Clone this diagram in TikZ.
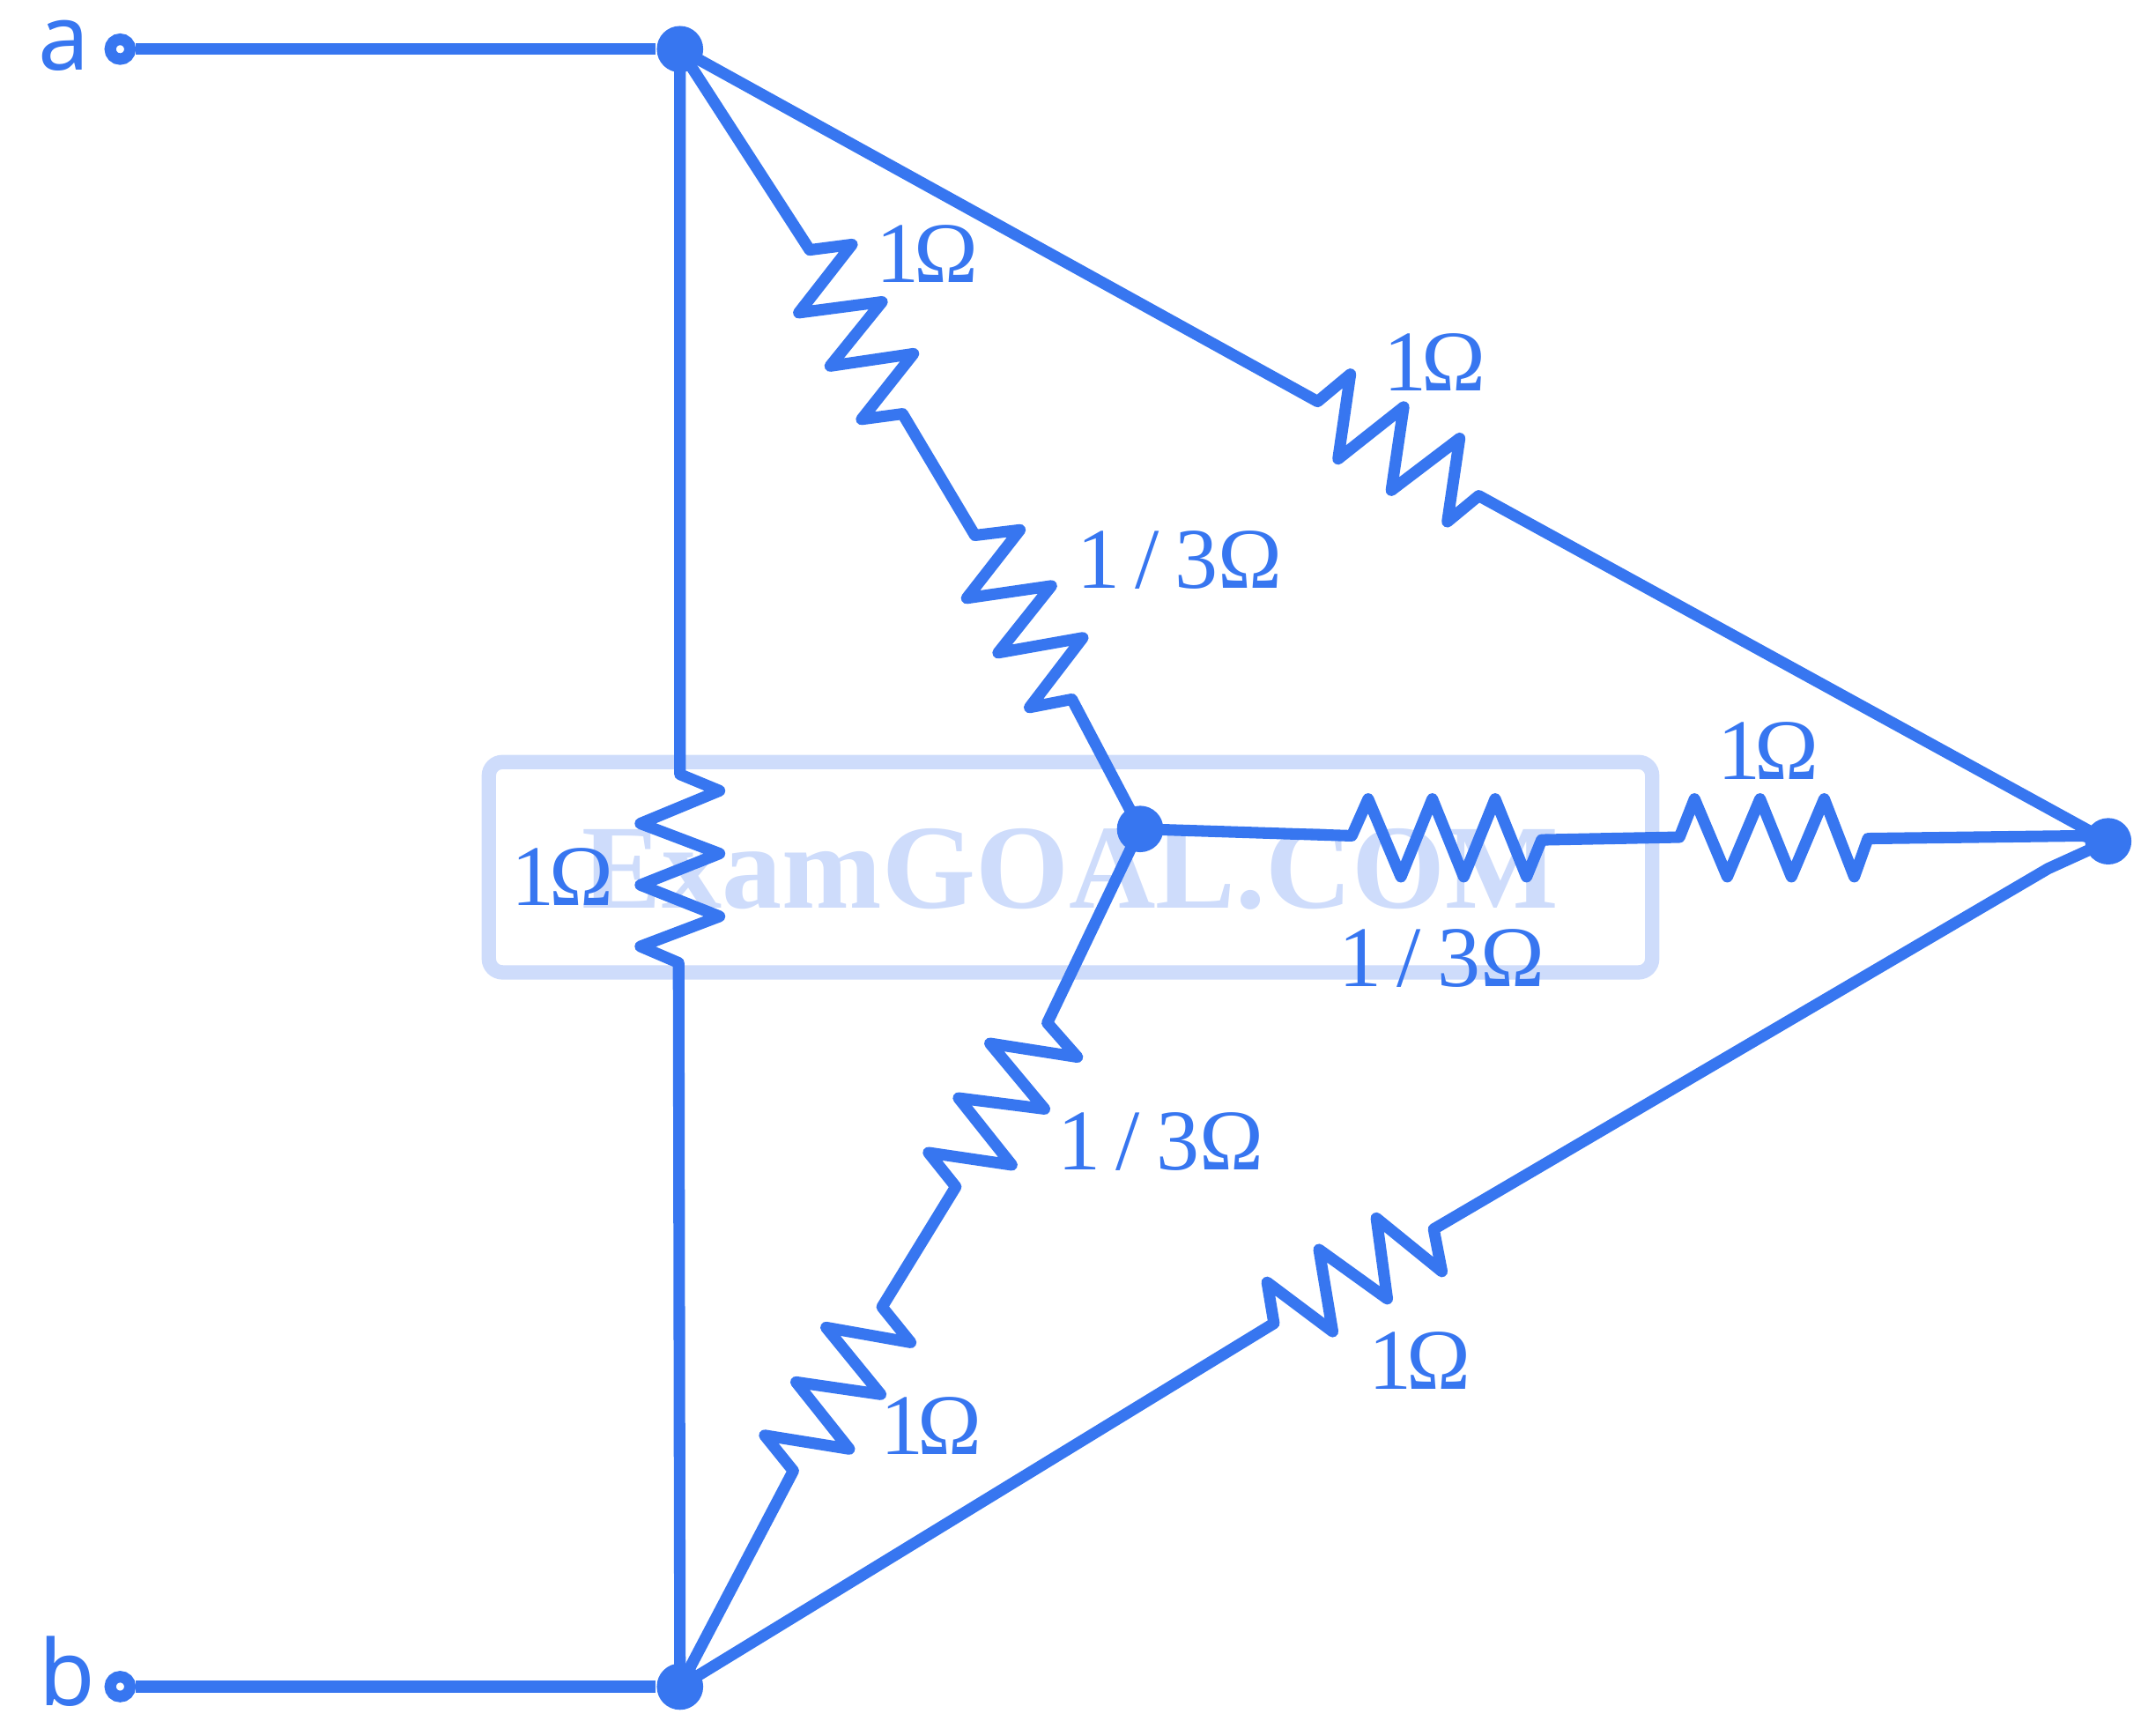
\documentclass[tikz,border=0pt]{standalone}
\usepackage{fontspec}
\setmainfont{Liberation Serif}
\newfontfamily\termfont{Noto Sans}
\definecolor{wireblue}{HTML}{3776F0}
\definecolor{markblue}{HTML}{CEDCFB}
\newcommand{\oneohm}{1\kern-0.4mm Ω}
\newcommand{\thirdohm}{1\kern1.1mm/\kern1.2mm 3Ω}
\tikzset{
  wire/.style={draw=wireblue, line width=2.4pt, line join=round},
  junction/.style={circle, fill=wireblue, inner sep=0pt, minimum size=3.4mm},
  terminal/.style={circle, draw=wireblue, fill=white, line width=2.4pt, inner sep=0pt, minimum size=1.45mm},
  ohm/.style={text=wireblue, font=\fontsize{18}{18}\selectfont, inner sep=0pt},
  termtext/.style={text=wireblue, font=\termfont\fontsize{19}{19}\selectfont, inner sep=0pt, anchor=base},
}

\begin{document}
\begin{tikzpicture}[x=0.1mm, y=-0.1mm]
    \useasboundingbox (0, 0) rectangle (1568, 1271);

    \draw[markblue, line width=3pt, rounded corners=1mm] (358, 558) rectangle (1210, 712);
    \node[text=markblue, font=\bfseries\fontsize{25}{25}\selectfont, inner sep=0pt, anchor=base]
      (mark) at (784, 665) {ExamGOAL.COM};

    \node[junction] (nA) at (498, 36) {};
    \node[junction] (nB) at (498, 1235) {};
    \node[junction] (nC) at (835, 607) {};
    \node[junction] (nD) at (1544, 616) {};
    \node[terminal] (ta) at (88, 36) {};
    \node[terminal] (tb) at (88, 1235) {};

    \draw[wire] (ta) -- (nA);
    \draw[wire] (tb) -- (nB);

    \draw[wire] (nA.center) -- (498, 567) -- (527, 579) -- (469, 603) -- (527, 625) -- (469, 648)
      -- (527, 671) -- (469, 693) -- (497, 705) -- (nB.center);
    \draw[wire] (nA.center) -- (593, 183) -- (624, 179) -- (585, 229) -- (646, 221) -- (608, 268)
      -- (669, 259) -- (631, 307) -- (661, 303) -- (714, 392) -- (747, 388) -- (708, 438)
      -- (770, 429) -- (731, 478) -- (793, 467) -- (754, 518) -- (785, 512) -- (nC.center);
    \draw[wire] (nA.center) -- (965, 294) -- (989, 274) -- (980, 336) -- (1028, 298) -- (1019, 359)
      -- (1069, 321) -- (1060, 382) -- (1083, 363) -- (nD.center);
    \draw[wire] (nC.center) -- (990, 612) -- (1002, 585) -- (1026, 642) -- (1049, 585) -- (1072, 642)
      -- (1095, 585) -- (1118, 642) -- (1129, 615) -- (1230, 613) -- (1241, 585) -- (1265, 642)
      -- (1289, 585) -- (1312, 642) -- (1336, 585) -- (1358, 642) -- (1368, 614) -- (1525, 612)
      -- (nD.center);
    \draw[wire] (nC.center) -- (767, 749) -- (789, 774) -- (725, 764) -- (765, 812) -- (702, 804)
      -- (741, 853) -- (680, 844) -- (700, 869) -- (646, 957) -- (667, 983) -- (605, 972)
      -- (645, 1021) -- (583, 1012) -- (622, 1061) -- (560, 1051) -- (581, 1077) -- (nB.center);
    \draw[wire] (nB.center) -- (933, 969) -- (928, 939) -- (976, 975) -- (966, 915) -- (1016, 951)
      -- (1008, 892) -- (1056, 931) -- (1050, 900) -- (1500, 636) -- (nD.center);

    \node[ohm] (r1) at (679, 186) {\oneohm};
    \node[ohm] (r2) at (1051, 265) {\oneohm};
    \node[ohm] (r3) at (864, 410) {\thirdohm};
    \node[ohm] (r4) at (412, 642) {\oneohm};
    \node[ohm] (r5) at (1295, 550) {\oneohm};
    \node[ohm] (r6) at (1056, 702) {\thirdohm};
    \node[ohm] (r7) at (850, 836) {\thirdohm};
    \node[ohm] (r8) at (682, 1044) {\oneohm};
    \node[ohm] (r9) at (1040, 996) {\oneohm};

    \node[termtext] (la) at (47, 51) {a};
    \node[termtext] (lb) at (49, 1249) {b};
  \end{tikzpicture}
\end{document}
